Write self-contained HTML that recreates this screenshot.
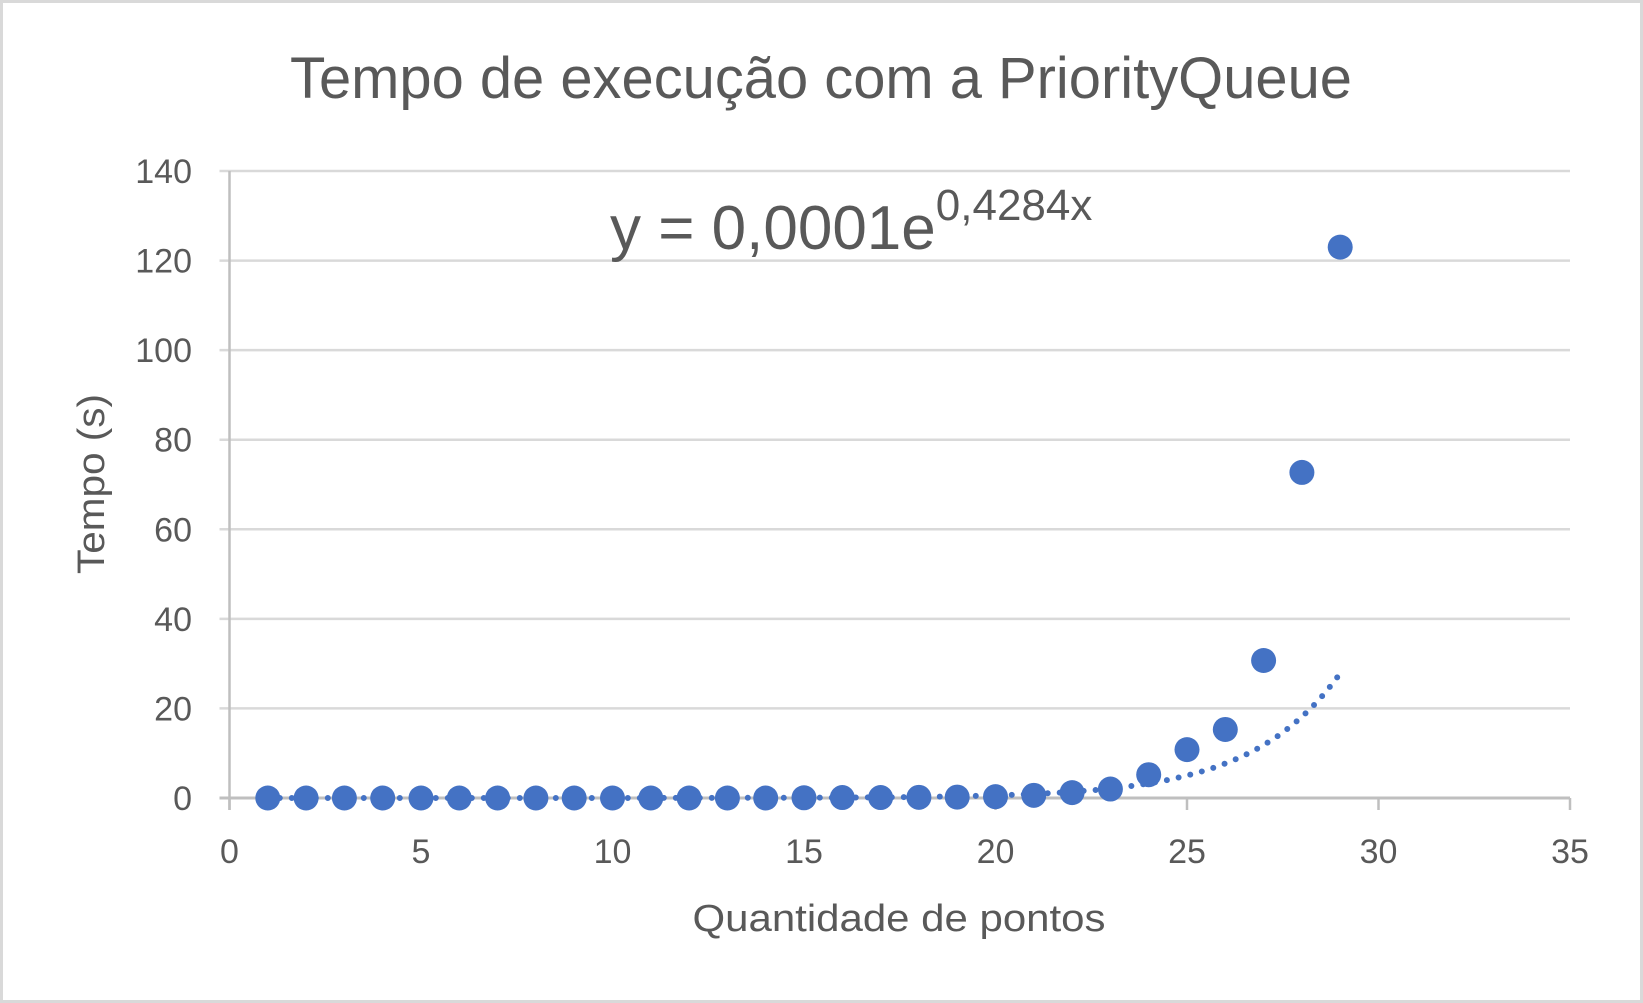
<!DOCTYPE html>
<html><head><meta charset="utf-8"><style>
html,body{margin:0;padding:0;background:#fff}
svg{display:block}
text{font-family:"Liberation Sans",sans-serif;fill:#595959}
</style></head><body>
<svg id="chart" width="1643" height="1003" viewBox="0 0 1643 1003">
<rect x="1.5" y="1.5" width="1640" height="1000" fill="#fff" stroke="#d9d9d9" stroke-width="3"/>
<text x="821" y="98" font-size="58" text-anchor="middle" textLength="1062" lengthAdjust="spacingAndGlyphs">Tempo de execução com a PriorityQueue</text>
<g id="grid"></g><g id="axes"></g><g id="trend"></g><g id="points"></g>
<text x="610" y="249" font-size="62">y = 0,0001e<tspan font-size="44" dy="-29">0,4284x</tspan></text>
<text transform="translate(104,484) rotate(-90)" font-size="38" text-anchor="middle" textLength="180" lengthAdjust="spacingAndGlyphs">Tempo (s)</text>
<text x="899" y="931" font-size="38" text-anchor="middle" textLength="413" lengthAdjust="spacingAndGlyphs">Quantidade de pontos</text>
</svg>
<script>
const xValues=[1,2,3,4,5,6,7,8,9,10,11,12,13,14,15,16,17,18,19,20,21,22,23,24,25,26,27,28,29];
const yValues=[0,0,0,0,0,0,0,0,0,0,0,0,0,0,0.05,0.1,0.1,0.15,0.2,0.3,0.6,1.2,2,5.2,10.8,15.3,30.7,72.7,123];
const xTicks=[0,5,10,15,20,25,30,35];
const yTicks=[0,20,40,60,80,100,120,140];
const trendA=0.000112, trendB=0.4284;
const NS="http://www.w3.org/2000/svg";
const X0=229.5,X1=1570,Y0=798,Y1=171;
const sx=v=>X0+(v-0)/(35-0)*(X1-X0);
const sy=v=>Y0-(v-0)/(140-0)*(Y0-Y1);
function mk(tag,attrs,parent){const e=document.createElementNS(NS,tag);for(const k in attrs)e.setAttribute(k,attrs[k]);document.getElementById(parent).appendChild(e);return e;}
yTicks.forEach(t=>{
 if(t>0){const g=mk('line',{x1:X0-10,x2:X1,y1:sy(t),y2:sy(t),stroke:'#d9d9d9','stroke-width':2.5},'grid');
 
 }
 const l=mk('text',{x:192,y:sy(t)+12,'font-size':34,'text-anchor':'end'},'axes');l.textContent=t;
 
 
});
const ya=mk('line',{x1:X0,x2:X0,y1:Y1,y2:Y0+12,stroke:'#bfbfbf','stroke-width':2.5},'axes');


const xa=mk('line',{x1:X0-10,x2:X1,y1:Y0,y2:Y0,stroke:'#bfbfbf','stroke-width':3},'axes');


xTicks.forEach(t=>{
 const tk=mk('line',{x1:sx(t),x2:sx(t),y1:Y0,y2:Y0+12,stroke:'#bfbfbf','stroke-width':2.5},'axes');
 
 
 const l=mk('text',{x:sx(t),y:863,'font-size':34,'text-anchor':'middle'},'axes');l.textContent=t;
 
 
});
let d='';for(let x=1;x<=29.001;x+=0.1){d+=(d?'L':'M')+sx(x).toFixed(1)+' '+sy(trendA*Math.exp(trendB*x)).toFixed(1);}
const tr=mk('path',{d:d,fill:'none',stroke:'#4472c4','stroke-width':6,'stroke-linecap':'round','stroke-dasharray':'0 12'},'trend');


xValues.forEach((x,i)=>{
 const c=mk('circle',{cx:sx(x),cy:sy(yValues[i]),r:12.5,fill:'#4472c4'},'points');
 
 
});
</script>
</body></html>
